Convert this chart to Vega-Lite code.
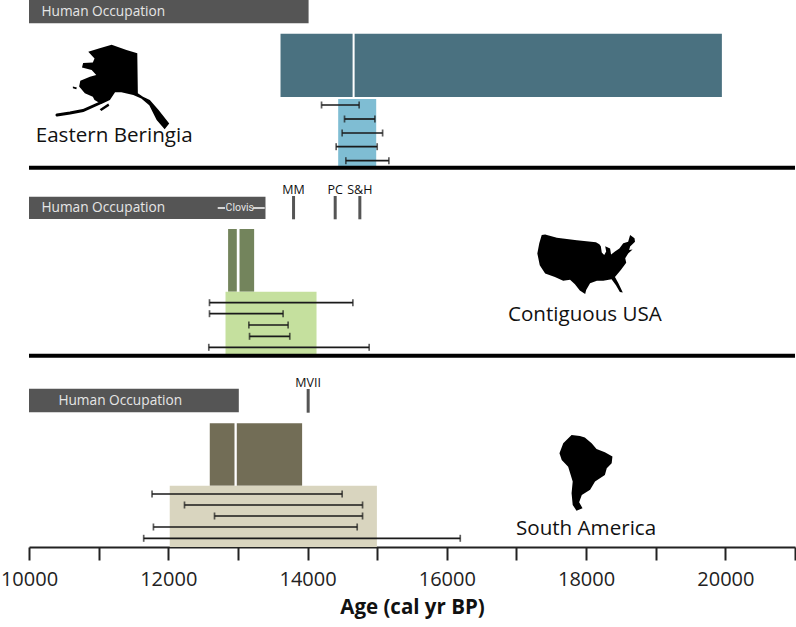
{"$schema":"https://vega.github.io/schema/vega-lite/v6.json","width":766,"height":547,"autosize":"none","padding":{"left":29,"top":0,"right":1,"bottom":80},"background":"white","view":{"stroke":null},
"datasets":{
"bars":[
{"name":"Human occupation","region":"Eastern Beringia","kind":"occupation","start":10000,"end":14015,"top":0,"bottom":23.3},
{"name":"Proxy A","region":"Eastern Beringia","kind":"beringia dark","start":13612,"end":14647,"top":33.7,"bottom":97},
{"name":"Proxy A","region":"Eastern Beringia","kind":"beringia dark","start":14676,"end":19950,"top":33.7,"bottom":97},
{"name":"Proxy B","region":"Eastern Beringia","kind":"beringia light","start":14440,"end":14986,"top":99,"bottom":167},
{"name":"Human occupation","region":"Contiguous USA","kind":"occupation","start":10000,"end":13396,"top":196.7,"bottom":219},
{"name":"Proxy A","region":"Contiguous USA","kind":"usa dark","start":12859,"end":12984,"top":229,"bottom":291.7},
{"name":"Proxy A","region":"Contiguous USA","kind":"usa dark","start":13023,"end":13233,"top":229,"bottom":291.7},
{"name":"Proxy B","region":"Contiguous USA","kind":"usa light","start":12822,"end":14129,"top":291.7,"bottom":355},
{"name":"Human occupation","region":"South America","kind":"occupation","start":10000,"end":13013,"top":388.7,"bottom":412.3},
{"name":"Proxy A","region":"South America","kind":"sa dark","start":12596,"end":12951,"top":423.3,"bottom":485.7},
{"name":"Proxy A","region":"South America","kind":"sa dark","start":12984,"end":13922,"top":423.3,"bottom":485.7},
{"name":"Proxy B","region":"South America","kind":"sa light","start":12021,"end":14996,"top":485.7,"bottom":547}
],
"ranges":[
{"low":14201,"high":14741,"lane":105},{"low":14531,"high":14967,"lane":119},{"low":14497,"high":15078,"lane":133},{"low":14411,"high":15000,"lane":146.7},{"low":14550,"high":15168,"lane":160.7},
{"low":12592,"high":14651,"lane":302.7},{"low":12592,"high":13649,"lane":313.7},{"low":13157,"high":13721,"lane":325},{"low":13167,"high":13745,"lane":336.3},{"low":12582,"high":14885,"lane":347.3},
{"low":11767,"high":14497,"lane":494},{"low":12233,"high":14790,"lane":505},{"low":12664,"high":14790,"lane":516},{"low":11787,"high":14713,"lane":527},{"low":11647,"high":16193,"lane":538.3}
],
"dividers":[{"low":10000,"high":21000,"lane":167.7},{"low":10000,"high":21000,"lane":355.7}],
"sites":[
{"site":"MM","age":13799,"top":196,"bottom":219.3,"labelLane":189.5},
{"site":"PC","age":14397,"top":196,"bottom":219.3,"labelLane":189.5},
{"site":"S&H","age":14751,"top":196,"bottom":219.3,"labelLane":189.5},
{"site":"MVII","age":14009,"top":389,"bottom":412.7,"labelLane":382.5}
],
"occ":[{"label":"Human Occupation","age":10178,"lane":12},{"label":"Human Occupation","age":10178,"lane":208},{"label":"Human Occupation","age":10422,"lane":401}],
"regions":[{"label":"Eastern Beringia","age":10096,"lane":136},{"label":"Contiguous USA","age":16878,"lane":315},{"label":"South America","age":16993,"lane":529}],
"clovisDash":[{"low":12710,"high":12815,"lane":208},{"low":13215,"high":13385,"lane":208}],
"clovis":[{"label":"Clovis","age":13027,"lane":208}],
"peninsula":[{"age":11020,"lane":103,"order":1},{"age":10776,"lane":110.5,"order":2},{"age":10589,"lane":113,"order":3},{"age":10402,"lane":115,"order":4}],
"maps":[{"region":"Eastern Beringia","age":11203,"lane":87,"extent":12996},{"region":"Contiguous USA","age":18001,"lane":264.2,"extent":9540},{"region":"South America","age":17998,"lane":472.8,"extent":5726}]
},
"layer":[
{"data":{"name":"bars"},"mark":{"type":"rect"},"encoding":{
"x":{"field":"start","type":"quantitative","scale":{"domain":[10000,21000],"nice":false,"zero":false},
"axis":{"values":[10000,11000,12000,13000,14000,15000,16000,17000,18000,19000,20000,21000],"labelExpr":"datum.value % 2000 == 0 ? format(datum.value,'d') : ''","grid":false,"domainColor":"#222","domainWidth":2,"tickColor":"#222","tickWidth":2,"tickSize":13,"labelFont":"Open Sans","labelFontSize":20,"labelColor":"#222","labelPadding":9,"labelOverlap":false,"labelFlush":false,"title":"Age (cal yr BP)","titleFont":"Open Sans","titleFontSize":20.5,"titleFontWeight":"bold","titleColor":"#111","titlePadding":8}},
"x2":{"field":"end"},
"y":{"field":"top","type":"quantitative","scale":{"domain":[0,547],"reverse":true,"nice":false,"zero":false},"axis":null},
"y2":{"field":"bottom"},
"color":{"field":"kind","type":"nominal","legend":null,"scale":{"domain":["occupation","beringia dark","beringia light","usa dark","usa light","sa dark","sa light"],"range":["#555555","#4a7180","#7fbdd3","#73845c","#c5e09e","#726d56","#d9d5bf"]}}}},
{"data":{"name":"maps"},"mark":{"type":"point","filled":true,"fill":"#000","stroke":null,"opacity":1},"encoding":{"x":{"field":"age","type":"quantitative"},"y":{"field":"lane","type":"quantitative"},
"size":{"field":"extent","type":"quantitative","legend":null,"scale":{"type":"linear","domain":[0,20000],"range":[0,20000],"zero":false,"nice":false}},
"shape":{"field":"region","type":"nominal","legend":null,"scale":{"domain":["Eastern Beringia","Contiguous USA","South America"],"range":["M-0.23,-0.68L-0.02,-0.74L0.24,-0.65L0.43,-0.59L0.44,0.11L0.53,0.17L0.65,0.23L0.80,0.40L0.99,0.64L0.91,0.74L0.77,0.58L0.64,0.32L0.50,0.20L0.36,0.14L0.15,0.09L0.04,0.09L-0.05,0.23L-0.20,0.30L-0.32,0.23L-0.35,0.17L-0.49,0.11L-0.59,-0.01L-0.57,-0.11L-0.40,-0.18L-0.29,-0.21L-0.37,-0.30L-0.54,-0.34L-0.52,-0.42L-0.35,-0.43L-0.32,-0.50L-0.43,-0.62ZM-0.23,0.39L-0.08,0.29L-0.06,0.33L-0.20,0.42ZM-0.70,-0.01L-0.63,0.01L-0.64,0.04L-0.70,0.02Z","M-0.91,-0.60L-0.84,-0.61L-0.60,-0.54L-0.19,-0.49L0.20,-0.45L0.27,-0.41L0.30,-0.37L0.32,-0.24L0.37,-0.19L0.41,-0.26L0.39,-0.37L0.49,-0.32L0.51,-0.20L0.59,-0.26L0.68,-0.32L0.76,-0.43L0.86,-0.46L0.90,-0.60L0.99,-0.53L1,-0.46L0.90,-0.36L0.88,-0.29L0.95,-0.30L0.86,-0.22L0.80,-0.12L0.82,-0.03L0.71,0.12L0.59,0.26L0.66,0.39L0.75,0.58L0.69,0.57L0.61,0.43L0.52,0.31L0.35,0.34L0.22,0.34L0.08,0.39L0,0.53L-0.02,0.61L-0.13,0.54L-0.23,0.41L-0.33,0.32L-0.47,0.34L-0.64,0.26L-0.84,0.19L-0.95,0.02L-1,-0.22L-0.96,-0.43Z","M-0.38,-1L-0.16,-0.97L-0.03,-0.93L0.15,-0.78L0.28,-0.63L0.50,-0.54L0.70,-0.43L0.68,-0.25L0.55,-0.12L0.50,0.06L0.24,0.23L0.11,0.45L-0.11,0.59L-0.18,0.78L-0.09,0.94L-0.25,1L-0.35,0.85L-0.38,0.54L-0.35,0.23L-0.47,-0.16L-0.64,-0.34L-0.70,-0.52L-0.60,-0.78Z"]}}}},
{"data":{"name":"peninsula"},"mark":{"type":"line","color":"#000","strokeWidth":3,"strokeCap":"round"},"encoding":{"x":{"field":"age","type":"quantitative"},"y":{"field":"lane","type":"quantitative"},"order":{"field":"order","type":"quantitative"}}},
{"data":{"name":"dividers"},"mark":{"type":"rule","color":"#000","strokeWidth":4},"encoding":{"x":{"field":"low","type":"quantitative"},"x2":{"field":"high"},"y":{"field":"lane","type":"quantitative"}}},
{"data":{"name":"sites"},"mark":{"type":"rule","color":"#555555","strokeWidth":3},"encoding":{"x":{"field":"age","type":"quantitative"},"y":{"field":"top","type":"quantitative"},"y2":{"field":"bottom"}}},
{"data":{"name":"sites"},"mark":{"type":"text","font":"Open Sans","fontSize":12.5,"color":"#111","align":"center","baseline":"middle"},"encoding":{"x":{"field":"age","type":"quantitative"},"y":{"field":"labelLane","type":"quantitative"},"text":{"field":"site"}}},
{"data":{"name":"ranges"},"mark":{"type":"rule","color":"#1a1a1a","strokeWidth":1.7},"encoding":{"x":{"field":"low","type":"quantitative"},"x2":{"field":"high"},"y":{"field":"lane","type":"quantitative"}}},
{"data":{"name":"ranges"},"mark":{"type":"tick","orient":"vertical","color":"#1a1a1a","size":7,"thickness":1.7},"encoding":{"x":{"field":"low","type":"quantitative"},"y":{"field":"lane","type":"quantitative"}}},
{"data":{"name":"ranges"},"mark":{"type":"tick","orient":"vertical","color":"#1a1a1a","size":7,"thickness":1.7},"encoding":{"x":{"field":"high","type":"quantitative"},"y":{"field":"lane","type":"quantitative"}}},
{"data":{"name":"occ"},"mark":{"type":"text","font":"Open Sans","fontSize":13.7,"color":"#e6e6e6","align":"left","baseline":"middle"},"encoding":{"x":{"field":"age","type":"quantitative"},"y":{"field":"lane","type":"quantitative"},"text":{"field":"label"}}},
{"data":{"name":"clovisDash"},"mark":{"type":"rule","color":"#ffffff","strokeWidth":1.5},"encoding":{"x":{"field":"low","type":"quantitative"},"x2":{"field":"high"},"y":{"field":"lane","type":"quantitative"}}},
{"data":{"name":"clovis"},"mark":{"type":"text","font":"Roboto","fontSize":10.5,"color":"#e6e6e6","align":"center","baseline":"middle"},"encoding":{"x":{"field":"age","type":"quantitative"},"y":{"field":"lane","type":"quantitative"},"text":{"field":"label"}}},
{"data":{"name":"regions"},"mark":{"type":"text","font":"Open Sans","fontSize":20.6,"color":"#111","align":"left","baseline":"middle"},"encoding":{"x":{"field":"age","type":"quantitative"},"y":{"field":"lane","type":"quantitative"},"text":{"field":"label"}}}
]}
